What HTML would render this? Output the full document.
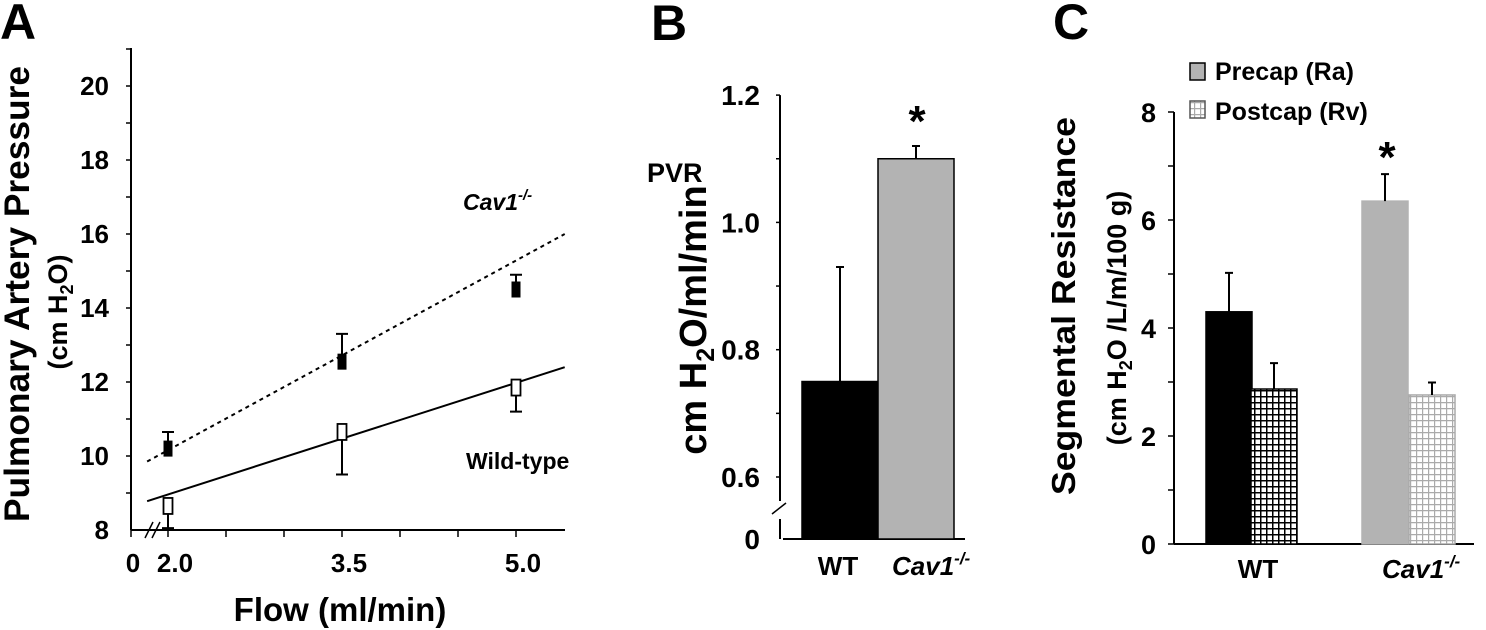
<!DOCTYPE html>
<html><head><meta charset="utf-8"><style>
body{margin:0;background:#fff}
svg{display:block;font-family:"Liberation Sans",Arial,sans-serif;font-weight:bold}
</style></head><body>
<svg width="1486" height="630" viewBox="0 0 1486 630">
<defs>
<pattern id="hatchBlack" width="6" height="6" patternUnits="userSpaceOnUse"><rect width="6" height="6" fill="#fff"/><path d="M0 0.75H6M0.75 0V6" stroke="#000" stroke-width="1.5"/></pattern>
<pattern id="hatchGray" width="6" height="6" patternUnits="userSpaceOnUse"><rect width="6" height="6" fill="#fff"/><path d="M0 0.6H6M0.6 0V6" stroke="#aaa" stroke-width="1.2"/></pattern>
</defs>
<g id="panelA"></g>
<g id="panelB"></g>
<g id="panelC"></g>
</svg>
<script>
// Panel A data
const aFlows = [2.0, 3.5, 5.0];
const aCavMean = [10.2, 12.55, 14.5];
const aCavErr = [0.45, 0.75, 0.4];
const aWtMean = [8.65, 10.65, 11.85];
const aWtErr = [0.6, 1.15, 0.65];
const aCavFit = [[1.82, 9.85], [5.42, 16.0]];
const aWtFit = [[1.82, 8.78], [5.42, 12.4]];
const aYTicks = [8, 10, 12, 14, 16, 18, 20];
const aXTickLabels = ["2.0", "3.5", "5.0"];
// Panel B data
const bCats = ["WT", "Cav1"];
const bVals = [0.75, 1.1];
const bErr = [0.18, 0.02];
const bYTicks = [0.6, 0.8, 1.0, 1.2];
// Panel C data
const cGroups = ["WT", "Cav1"];
const cPre = [4.3, 6.35];
const cPreErr = [0.72, 0.5];
const cPost = [2.87, 2.76];
const cPostErr = [0.48, 0.23];
const cYTicks = [0, 2, 4, 6, 8];

const NS = "http://www.w3.org/2000/svg";
function mk(parent, tag, attrs, text){
  const e = document.createElementNS(NS, tag);
  for (const k in attrs) e.setAttribute(k, attrs[k]);
  if (text !== undefined) e.textContent = text;
  parent.appendChild(e);
  return e;
}

// ---------- Panel A ----------
const A = document.getElementById('panelA');
const ax = v => 168 + (v - 2) * 116;
const ay = v => 530 - (v - 8) * 37;
let t = mk(A,'text',{x:0,y:39,'font-size':50}, 'A');
 
let l = mk(A,'line',{x1:131,y1:48,x2:131,y2:530,stroke:'#000','stroke-width':2});
 
l = mk(A,'line',{x1:131,y1:530,x2:565,y2:530,stroke:'#000','stroke-width':2});
 
for (let v = 9; v <= 21; v++) {
  const tk = mk(A,'line',{x1:126,y1:ay(v),x2:131,y2:ay(v),stroke:'#000','stroke-width':1.5});
   
}
aYTicks.forEach(v=>{
  const tx = mk(A,'text',{x:109,y:ay(v)+9,'font-size':26,'text-anchor':'end'}, String(v));
   
});
[131].concat([2,2.5,3,3.5,4,4.5,5].map(ax)).forEach(x=>{
  const tk = mk(A,'line',{x1:x,y1:530,x2:x,y2:537,stroke:'#000','stroke-width':1.5});
   
});
let br = mk(A,'path',{d:'M145 538L153 522M152 538L160 522',stroke:'#000','stroke-width':1.5,fill:'none'});
 
t = mk(A,'text',{x:133,y:572,'font-size':26,'text-anchor':'middle'}, '0');
 
aFlows.forEach((f,i)=>{
  const tx = mk(A,'text',{x:ax(f)+7,y:572,'font-size':26,'text-anchor':'middle'}, aXTickLabels[i]);
   
});
t = mk(A,'text',{x:340,y:621,'font-size':33,'text-anchor':'middle'}, 'Flow (ml/min)');
 
t = mk(A,'text',{x:0,y:0,'font-size':35,'text-anchor':'middle',textLength:456,lengthAdjust:'spacingAndGlyphs',transform:'translate(29,294) rotate(-90)'}, 'Pulmonary Artery Pressure');
 
t = mk(A,'text',{x:0,y:0,'font-size':27,'text-anchor':'middle',transform:'translate(67,312) rotate(-90)'});
t.innerHTML = '(cm H<tspan font-size="18" dy="6">2</tspan><tspan dy="-6">O)</tspan>';
 
l = mk(A,'line',{x1:ax(aCavFit[0][0]),y1:ay(aCavFit[0][1]),x2:ax(aCavFit[1][0]),y2:ay(aCavFit[1][1]),stroke:'#000','stroke-width':2,'stroke-dasharray':'4 4'});
 
l = mk(A,'line',{x1:ax(aWtFit[0][0]),y1:ay(aWtFit[0][1]),x2:ax(aWtFit[1][0]),y2:ay(aWtFit[1][1]),stroke:'#000','stroke-width':2});
 
aFlows.forEach((f,i)=>{
  const x = ax(f);
  let y = ay(aCavMean[i]), ye = ay(aCavMean[i]+aCavErr[i]);
  const e1 = mk(A,'path',{d:`M${x} ${y}V${ye}M${x-6} ${ye}H${x+6}`,stroke:'#000','stroke-width':2,fill:'none'});
   
  const m1 = mk(A,'rect',{x:x-4.5,y:y-8,width:9,height:16,fill:'#000'});
   
  y = ay(aWtMean[i]); ye = ay(aWtMean[i]-aWtErr[i]);
  const e2 = mk(A,'path',{d:`M${x} ${y}V${ye}M${x-6} ${ye}H${x+6}`,stroke:'#000','stroke-width':2,fill:'none'});
   
  const m2 = mk(A,'rect',{x:x-4.5,y:y-8,width:9,height:16,fill:'#fff',stroke:'#000','stroke-width':1.8});
   
});
t = mk(A,'text',{x:463,y:210,'font-size':23,'font-style':'italic'});
t.innerHTML = 'Cav1<tspan font-size="15" dy="-10">-/-</tspan>';
 
t = mk(A,'text',{x:466,y:469,'font-size':23}, 'Wild-type');
 

// ---------- Panel B ----------
const B = document.getElementById('panelB');
const by = v => 477 - (v - 0.6) / 0.2 * 127.3;
const bZero = 539;
t = mk(B,'text',{x:651,y:40,'font-size':50}, 'B');
 
l = mk(B,'path',{d:`M780 ${by(1.2)}V501M780 519V${bZero}`,stroke:'#000','stroke-width':2,fill:'none'});
 
br = mk(B,'line',{x1:772,y1:514,x2:786,y2:503,stroke:'#000','stroke-width':1.5});
 
l = mk(B,'line',{x1:783,y1:bZero,x2:965,y2:bZero,stroke:'#000','stroke-width':2});
 
[0.6,0.7,0.8,0.9,1.0,1.1,1.2].forEach(v=>{
  const tk = mk(B,'line',{x1:776,y1:by(v),x2:780,y2:by(v),stroke:'#000','stroke-width':1.5});
   
});
bYTicks.forEach(v=>{
  const tx = mk(B,'text',{x:760,y:by(v)+10,'font-size':28,'text-anchor':'end'}, v.toFixed(1));
   
});
t = mk(B,'text',{x:760,y:bZero+10,'font-size':28,'text-anchor':'end'}, '0');
 
t = mk(B,'text',{x:647,y:182,'font-size':27}, 'PVR');
 
t = mk(B,'text',{x:0,y:0,'font-size':38,'text-anchor':'middle',transform:'translate(706,320) rotate(-90)'});
t.innerHTML = 'cm H<tspan font-size="25" dy="8">2</tspan><tspan dy="-8">O/ml/min</tspan>';
 
const bX = [802, 878], bW = 76;
const bFill = ['#000', '#b3b3b3'];
bCats.forEach((c,i)=>{
  const top = by(bVals[i]);
  const r = mk(B,'rect',{x:bX[i],y:top,width:bW,height:bZero-top,fill:bFill[i],stroke:'#000','stroke-width':1.5});
   
  const cx = bX[i]+bW/2, ye = by(bVals[i]+bErr[i]);
  const e = mk(B,'path',{d:`M${cx} ${top}V${ye}M${cx-4} ${ye}H${cx+4}`,stroke:'#000','stroke-width':2,fill:'none'});
   
});
t = mk(B,'text',{x:917,y:136,'font-size':44,'text-anchor':'middle'}, '*');
 
t = mk(B,'text',{x:838,y:575,'font-size':26,'text-anchor':'middle'}, 'WT');
 
t = mk(B,'text',{x:892,y:575,'font-size':26,'font-style':'italic'});
t.innerHTML = 'Cav1<tspan font-size="17" dy="-11">-/-</tspan>';
 

// ---------- Panel C ----------
const C = document.getElementById('panelC');
const cy = v => 544 - v * 54;
t = mk(C,'text',{x:1053,y:39,'font-size':50}, 'C');
 
l = mk(C,'line',{x1:1174,y1:cy(8),x2:1174,y2:cy(0),stroke:'#000','stroke-width':2});
 
l = mk(C,'line',{x1:1174,y1:cy(0),x2:1474,y2:cy(0),stroke:'#000','stroke-width':2});
 
for (let v=0; v<=8; v++){
  const tk = mk(C,'line',{x1:1168,y1:cy(v),x2:1174,y2:cy(v),stroke:'#000','stroke-width':1.5});
   
}
cYTicks.forEach(v=>{
  const tx = mk(C,'text',{x:1156,y:cy(v)+10,'font-size':27,'text-anchor':'end'}, String(v));
   
});
t = mk(C,'text',{x:0,y:0,'font-size':33,'text-anchor':'middle',textLength:378,lengthAdjust:'spacingAndGlyphs',transform:'translate(1075,306) rotate(-90)'}, 'Segmental Resistance');
 
t = mk(C,'text',{x:0,y:0,'font-size':27,'text-anchor':'middle',transform:'translate(1126,318) rotate(-90)'});
t.innerHTML = '(cm H<tspan font-size="18" dy="6">2</tspan><tspan dy="-6">O /L/m/100 g)</tspan>';
 
const cPreX = [1206, 1362], cPostX = [1251, 1409], cW = 46;
const cPreFill = ['#000', '#b3b3b3'], cPreStroke = ['#000', '#b3b3b3'];
const cPostFill = ['url(#hatchBlack)', 'url(#hatchGray)'], cPostStroke = ['#000', '#aaa'];
cGroups.forEach((g,i)=>{
  let top = cy(cPre[i]);
  let r = mk(C,'rect',{x:cPreX[i],y:top,width:cW,height:cy(0)-top,fill:cPreFill[i],stroke:cPreStroke[i],'stroke-width':1.5});
   
  let cx = cPreX[i]+cW/2, ye = cy(cPre[i]+cPreErr[i]);
  let e = mk(C,'path',{d:`M${cx} ${top}V${ye}M${cx-4} ${ye}H${cx+4}`,stroke:'#000','stroke-width':2,fill:'none'});
   
  top = cy(cPost[i]);
  r = mk(C,'rect',{x:cPostX[i],y:top,width:cW,height:cy(0)-top,fill:cPostFill[i],stroke:cPostStroke[i],'stroke-width':1.5});
   
  cx = cPostX[i]+cW/2; ye = cy(cPost[i]+cPostErr[i]);
  e = mk(C,'path',{d:`M${cx} ${top}V${ye}M${cx-4} ${ye}H${cx+4}`,stroke:'#000','stroke-width':2,fill:'none'});
   
});
t = mk(C,'text',{x:1387,y:172,'font-size':44,'text-anchor':'middle'}, '*');
 
t = mk(C,'text',{x:1258,y:578,'font-size':26,'text-anchor':'middle'}, 'WT');
 
t = mk(C,'text',{x:1382,y:578,'font-size':26,'font-style':'italic'});
t.innerHTML = 'Cav1<tspan font-size="17" dy="-11">-/-</tspan>';
 
let lg = mk(C,'rect',{x:1190,y:63,width:15,height:17,fill:'#b3b3b3',stroke:'#000','stroke-width':1.5});
 
t = mk(C,'text',{x:1215,y:80,'font-size':25}, 'Precap (Ra)');
 
lg = mk(C,'rect',{x:1190,y:101,width:15,height:17,fill:'url(#hatchGray)',stroke:'#555','stroke-width':1.5});
 
t = mk(C,'text',{x:1215,y:120,'font-size':25}, 'Postcap (Rv)');
 
</script>
</body></html>
